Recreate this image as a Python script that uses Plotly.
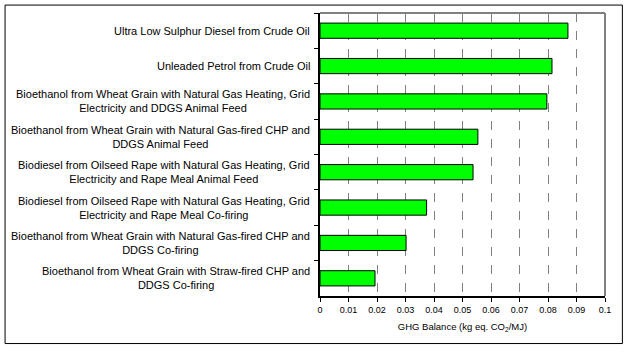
import plotly.graph_objects as go

categories = [
    "Ultra Low Sulphur Diesel from Crude Oil",
    "Unleaded Petrol from Crude Oil",
    "Bioethanol from Wheat Grain with Natural Gas Heating, Grid<br>Electricity and DDGS Animal Feed",
    "Bioethanol from Wheat Grain with Natural Gas-fired CHP and<br>DDGS Animal Feed",
    "Biodiesel from Oilseed Rape with Natural Gas Heating, Grid<br>Electricity and Rape Meal Animal Feed",
    "Biodiesel from Oilseed Rape with Natural Gas Heating, Grid<br>Electricity and Rape Meal Co-firing",
    "Bioethanol from Wheat Grain with Natural Gas-fired CHP and<br>DDGS Co-firing",
    "Bioethanol from Wheat Grain with Straw-fired CHP and<br>DDGS Co-firing",
]
values = [0.0870, 0.0814, 0.0796, 0.0554, 0.0537, 0.0374, 0.0302, 0.0193]
x_ticks = [0, 0.01, 0.02, 0.03, 0.04, 0.05, 0.06, 0.07, 0.08, 0.09, 0.1]
x_tick_labels = ["0", "0.01", "0.02", "0.03", "0.04", "0.05", "0.06", "0.07", "0.08", "0.09", "0.1"]
x_title = "GHG Balance (kg eq. CO<sub>2</sub>/MJ)"

FONT = "Liberation Sans, Arial, sans-serif"

fig = go.Figure(go.Bar(
    x=values, y=categories, orientation="h",
    marker=dict(color="#00FF00", line=dict(color="#000000", width=1)),
    width=0.43, hoverinfo="skip",
))

annotations = [
    dict(text=c, x=0, xref="paper", y=c, yref="y",
         xanchor="right", yanchor="middle", xshift=-8, align="center",
         showarrow=False, font=dict(family=FONT, size=11, color="#000000"))
    for c in categories
]

fig.update_layout(
    width=633, height=355,
    margin=dict(l=320, r=28, t=13, b=59),
    paper_bgcolor="white", plot_bgcolor="white",
    showlegend=False,
    font=dict(family=FONT, size=10, color="#000000"),
    annotations=annotations,
    xaxis=dict(
        range=[0, 0.1], tickvals=x_ticks, ticktext=x_tick_labels,
        showgrid=True, gridcolor="#808080", griddash="dash", gridwidth=1,
        zeroline=False, showline=True, linecolor="#000000", linewidth=1.5,
        ticks="outside", ticklen=4, tickcolor="#000000",
        title=dict(text=x_title, font=dict(family=FONT, size=9.5), standoff=10),
        tickfont=dict(family=FONT, size=9),
    ),
    yaxis=dict(
        categoryorder="array", categoryarray=categories, autorange="reversed",
        showticklabels=False, tickson="boundaries", ticks="outside", ticklen=4,
        tickcolor="#000000", showline=True, linecolor="#000000", linewidth=1.5,
        showgrid=False, zeroline=False,
    ),
    shapes=[
        dict(type="line", xref="paper", yref="paper", x0=0, x1=1, y0=1, y1=1,
             line=dict(color="#808080", width=2)),
        dict(type="line", xref="paper", yref="paper", x0=1, x1=1, y0=0, y1=1,
             line=dict(color="#808080", width=2)),
        dict(type="rect", xref="paper", yref="paper", x0=-1.105, x1=1.061, y0=-0.168, y1=1.028,
             line=dict(color="#000000", width=1)),
    ],
)

fig.write_html("out.html", config={"displayModeBar": False},
               post_script="document.body.style.margin='0';")
